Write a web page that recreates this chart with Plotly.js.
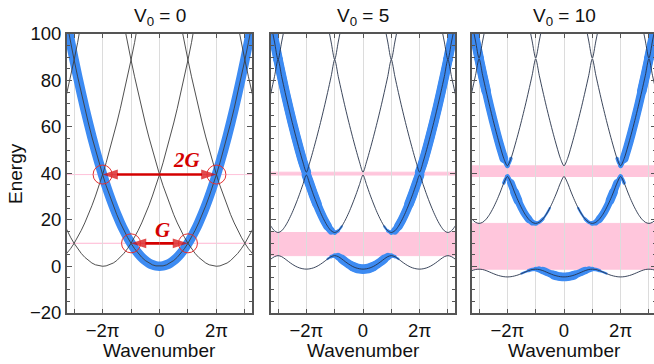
<!DOCTYPE html>
<html><head><meta charset="utf-8">
<script src="https://cdn.plot.ly/plotly-3.0.1.min.js"></script>
<style>html,body{margin:0;padding:0;overflow:hidden;background:#fff}#chart{width:658px;height:364px}</style>
</head><body><div id="chart"></div>
<script>
// Wavenumbers of the half-zone samples (units of pi): 0, pi/8, ... pi
const halfZoneK = [0, 0.125, 0.25, 0.375, 0.5, 0.625, 0.75, 0.875, 1];
const panelTitles = ['V<sub>0</sub> = 0', 'V<sub>0</sub> = 5', 'V<sub>0</sub> = 10'];
const xTickVals = [-2, 0, 2];
const xTickText = ['\u22122\u03c0', '0', '2\u03c0'];
const yTickVals = [-20, 0, 20, 40, 60, 80, 100];

// Band energies (bands 1..4) at halfZoneK, V0 = 0
const v0Band1 = [0, 0.154, 0.617, 1.388, 2.467, 3.855, 5.552, 7.556, 9.870];
const v0Band2 = [39.48, 34.70, 30.22, 26.06, 22.21, 18.66, 15.42, 12.49, 9.870];
const v0Band3 = [39.48, 44.57, 49.97, 55.67, 61.69, 68.01, 74.64, 81.58, 88.83];
const v0Band4 = [157.9, 148.2, 138.8, 129.7, 120.9, 112.4, 104.2, 96.38, 88.83];
// V0 = 5
const v5Band1 = [-1.24, -1.09, -0.69, -0.03, 0.88, 1.96, 3.13, 4.14, 4.57];
const v5Band2 = [39.27, 35.14, 30.78, 26.80, 23.12, 19.90, 17.20, 15.27, 14.53];
const v5Band3 = [40.50, 44.95, 50.29, 55.97, 61.93, 68.23, 74.84, 81.76, 88.97];
const v5Band4 = [158.3, 148.5, 139.0, 129.9, 121.1, 112.7, 104.3, 96.53, 89.01];
// V0 = 10
const v10Band1 = [-4.60, -4.49, -4.19, -3.75, -3.15, -2.50, -1.87, -1.41, -1.26];
const v10Band2 = [38.64, 35.89, 31.97, 28.33, 25.11, 22.38, 20.27, 18.92, 18.44];
const v10Band3 = [43.24, 46.36, 51.34, 56.83, 62.70, 68.89, 75.43, 82.24, 89.31];
const v10Band4 = [159.6, 149.3, 139.9, 130.6, 121.4, 112.9, 104.7, 96.96, 89.63];

// Free-electron (blue) weight on each band vs |k| in steps of pi/8 (0 .. 27)
const v5W1 = [0.97,0.97,0.96,0.95,0.94,0.92,0.85,0.72,0.5,0.28,0.15,0.08,0,0,0,0,0,0,0,0,0,0,0,0,0,0,0,0];
const v5W2 = [0,0,0,0,0,0.08,0.15,0.28,0.5,0.72,0.85,0.92,0.94,0.95,0.96,0.97,0.97,0,0,0,0,0,0,0,0,0,0,0];
const v5W3 = [0,0,0,0,0,0,0,0,0,0,0,0,0,0,0,0,0.97,0.97,0.97,0.97,0.97,0.97,0.97,0.97,0.97,0,0,0];
const v5W4 = [0,0,0,0,0,0,0,0,0,0,0,0,0,0,0,0,0,0,0,0,0,0,0,0,0.97,0.97,0.97,0.97];
const v10W1 = [0.90,0.90,0.89,0.87,0.84,0.79,0.72,0.62,0.5,0.37,0.27,0.19,0.14,0.10,0,0,0,0,0,0,0,0,0,0,0,0,0,0];
const v10W2 = [0,0,0,0.10,0.14,0.19,0.27,0.37,0.5,0.62,0.72,0.78,0.82,0.85,0.86,0.83,0.47,0.25,0,0,0,0,0,0,0,0,0,0];
const v10W3 = [0,0,0,0,0,0,0,0,0,0,0,0,0,0,0,0.25,0.45,0.85,0.9,0.92,0.93,0.94,0.95,0.95,0.95,0,0,0];
const v10W4 = [0,0,0,0,0,0,0,0,0,0,0,0,0,0,0,0,0,0,0,0,0,0,0,0,0.95,0.95,0.95,0.95];

const panels = [
  {bands:[v0Band1,v0Band2,v0Band3,v0Band4], weights:null, xa:'x', ya:'y', lineColor:'#3c3c3c', shape:'linear'},
  {bands:[v5Band1,v5Band2,v5Band3,v5Band4], weights:[v5W1,v5W2,v5W3,v5W4], xa:'x2', ya:'y2', lineColor:'#26324a', shape:'spline'},
  {bands:[v10Band1,v10Band2,v10Band3,v10Band4], weights:[v10W1,v10W2,v10W3,v10W4], xa:'x3', ya:'y3', lineColor:'#26324a', shape:'spline'}
];

const BLUE = '#3d8bf2';
const PINK = '#ffc6dc';
const RED = '#d40000';
const N = 27; // samples each side, pi/8 steps
const STEPS = halfZoneK.length - 1; // 8
function zoneIndex(i) {
  let r = ((i % (2*STEPS)) + 2*STEPS) % (2*STEPS);
  if (r > STEPS) r = 2*STEPS - r;
  return r;
}
function kOf(i) { const s = i < 0 ? -1 : 1; const a = Math.abs(i); return s * (Math.floor(a / STEPS) + halfZoneK[a % STEPS]); }

const traces = [];
const levels = [0.12, 0.25, 0.4, 0.55, 0.7, 0.85, 0.95];
const widths = [2.2, 3.4, 4.8, 6.2, 7.6, 8.8, 9.6];

panels.forEach((p) => {
  if (!p.weights) {
    const x = [], y = [];
    for (let i = -N; i <= N; i++) {
      const a = Math.abs(i);
      const host = a <= STEPS ? 0 : a <= 2*STEPS ? 1 : a <= 3*STEPS ? 2 : 3;
      x.push(kOf(i)); y.push(p.bands[host][zoneIndex(i)]);
    }
    traces.push({type:'scatter', mode:'lines', x, y, xaxis:p.xa, yaxis:p.ya,
      line:{color:BLUE, width:9.6, shape:'spline', smoothing:1}, hoverinfo:'skip', showlegend:false});
  } else {
    levels.forEach((t, li) => {
      p.weights.forEach((wArr, b) => {
        let run = null;
        const flush = () => {
          if (run && run.x.length > 1) traces.push({type:'scatter', mode:'lines', x:run.x, y:run.y,
            xaxis:p.xa, yaxis:p.ya, line:{color:BLUE, width:widths[li], shape:'spline', smoothing:1},
            hoverinfo:'skip', showlegend:false});
          run = null;
        };
        for (let i = -N; i <= N; i++) {
          const w = wArr[Math.abs(i)];
          if (w >= t) { if (!run) run = {x:[], y:[]}; run.x.push(kOf(i)); run.y.push(p.bands[b][zoneIndex(i)]); }
          else flush();
        }
        flush();
      });
    });
  }
  p.bands.forEach(band => {
    const x = [], y = [];
    for (let i = -N; i <= N; i++) { x.push(kOf(i)); y.push(band[zoneIndex(i)]); }
    traces.push({type:'scatter', mode:'lines', x, y, xaxis:p.xa, yaxis:p.ya,
      line:{color:p.lineColor, width:0.9, shape:p.shape, smoothing:0.8}, hoverinfo:'skip', showlegend:false});
  });
});

// Bragg construction in panel 1 (double arrows as two half-arrows each)
const eG = v0Band1[STEPS];   // crossing at k = ±pi
const e2G = v0Band2[0];      // crossing at k = ±2pi
[[2, e2G], [-2, e2G], [1, eG], [-1, eG]].forEach(a => traces.push({type:'scatter', mode:'lines+markers',
  x:[0, a[0]], y:[a[1], a[1]], xaxis:'x', yaxis:'y', line:{color:RED, width:2.6},
  marker:{symbol:'arrow', angleref:'previous', size:[0, 16], color:RED, line:{width:0}},
  hoverinfo:'skip', showlegend:false, cliponaxis:false}));

const W = 658, H = 364;
const xDomains = [[67/W, 252/W], [271/W, 455/W], [472/W, 656/W]];
const yDomain = [1 - 312.7/H, 1 - 34/H];
const font = {family:'Liberation Sans, Arial, Helvetica, sans-serif', size:19, color:'#111'};
const tickFont = {family:'Liberation Sans, Arial, Helvetica, sans-serif', size:18.5, color:'#111'};
const axisLine = {showline:true, linecolor:'#555', linewidth:2, mirror:'ticks', ticks:'inside', tickcolor:'#555', zeroline:false, fixedrange:true};

const layout = {width:W, height:H, margin:{l:0, r:0, t:0, b:0}, paper_bgcolor:'#fff', plot_bgcolor:'#fff',
  font:font, showlegend:false, shapes:[], annotations:[]};

panels.forEach((p, pi) => {
  const sx = pi === 0 ? '' : String(pi + 1);
  layout['xaxis' + sx] = Object.assign({}, axisLine, {domain:xDomains[pi], anchor:'y' + sx, range:[-3.25, 3.25],
    tickmode:'array', tickvals:xTickVals, ticktext:xTickText, ticklen:4, showgrid:true, gridcolor:'#dcdcdc', gridwidth:1,
    tickfont:tickFont, minor:{dtick:1, tick0:0, ticks:'inside', ticklen:4, tickcolor:'#555', showgrid:true, gridcolor:'#dcdcdc', gridwidth:1}});
  layout['yaxis' + sx] = Object.assign({}, axisLine, {domain:yDomain, anchor:'x' + sx, range:[-20, 100],
    tickmode:'array', tickvals:yTickVals, ticklen:5, showgrid:false, showticklabels: pi === 0, tickfont:tickFont,
    minor:{dtick:5, tick0:0, ticks:'inside', ticklen:3, tickcolor:'#555', showgrid:false}});
  const gaps = [[p.bands[0][STEPS], p.bands[1][STEPS]], [p.bands[1][0], p.bands[2][0]]];
  gaps.forEach(g => layout.shapes.push({type:'rect', xref:'x' + sx + ' domain', yref:'y' + sx, x0:0, x1:1,
    y0:g[0], y1:g[1], fillcolor:PINK, line:{color:PINK, width:1}, layer:'below'}));
  const xc = (xDomains[pi][0] + xDomains[pi][1]) / 2;
  layout.annotations.push({xref:'paper', yref:'paper', x:xc, y:1 - 17/H, text:panelTitles[pi], showarrow:false,
    xanchor:'center', yanchor:'middle', font:font});
  layout.annotations.push({xref:'paper', yref:'paper', x:xc, y:1 - 350/H, text:'Wavenumber', showarrow:false,
    xanchor:'center', yanchor:'middle', font:font});
});
layout.annotations.push({xref:'paper', yref:'paper', x:15/W, y:1 - 174/H, text:'Energy', textangle:-90, showarrow:false,
  xanchor:'center', yanchor:'middle', font:font});

[[-2, e2G], [2, e2G], [-1, eG], [1, eG]].forEach(c => layout.shapes.push({type:'circle', xref:'x', yref:'y',
  xsizemode:'pixel', ysizemode:'pixel', xanchor:c[0], yanchor:c[1], x0:-9.5, x1:9.5, y0:-9.5, y1:9.5,
  line:{color:'#e23030', width:1}, layer:'above'}));
const redFont = {family:'Liberation Serif, Times New Roman, serif', size:21, color:RED};
layout.annotations.push({xref:'x', yref:'y', x:0.94, y:45.7, text:'<b><i>2G</i></b>', showarrow:false, font:redFont});
layout.annotations.push({xref:'x', yref:'y', x:0.1, y:15.6, text:'<b><i>G</i></b>', showarrow:false, font:redFont});

Plotly.newPlot('chart', traces, layout, {staticPlot:true, displayModeBar:false}).then(gd => {
  gd.querySelectorAll('.scatterlayer path.js-line').forEach(el => {
    if ((el.style.stroke || '').replace(/\s/g, '') === 'rgb(61,139,242)') el.style.strokeLinecap = 'round';
  });
  // drop Plotly's empty placeholder title texts
  gd.querySelectorAll('text').forEach(t => { if (!t.textContent.trim()) t.remove(); });
});
</script></body></html>
